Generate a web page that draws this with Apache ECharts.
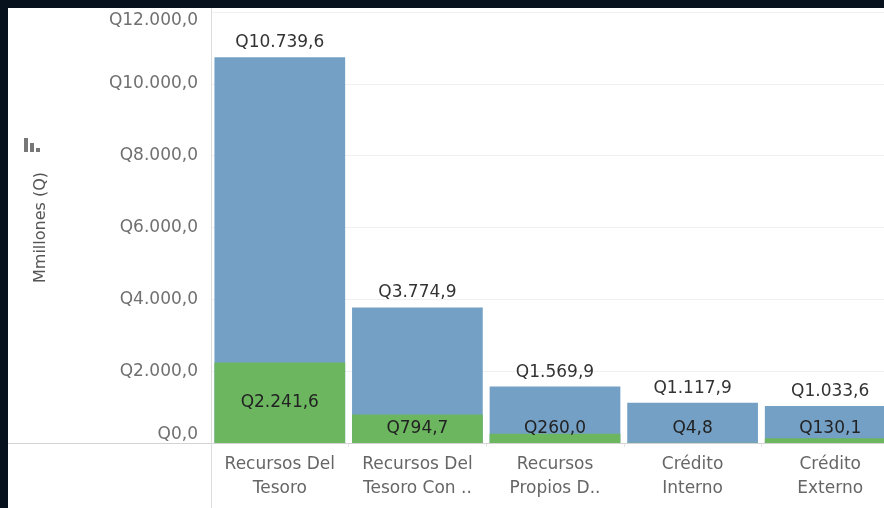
<!DOCTYPE html>
<html>
<head>
<meta charset="utf-8">
<script src="https://cdn.jsdelivr.net/npm/echarts@6/dist/echarts.min.js"></script>
<style>
  html, body { margin: 0; padding: 0; background: #06111d; width: 884px; height: 508px; overflow: hidden; }
  #chart { position: absolute; left: 8px; top: 8px; width: 876px; height: 500px; background: #fff; }
</style>
</head>
<body>
<div id="chart"></div>
<script>
// fuentes de financiamiento (millones de Q)
var categorias = ['Recursos Del\nTesoro', 'Recursos Del\nTesoro Con ..', 'Recursos\nPropios D..', 'Crédito\nInterno', 'Crédito\nExterno'];
var totales = [10739.6, 3774.9, 1569.9, 1117.9, 1033.6];
var ejecutados = [2241.6, 794.7, 260.0, 4.8, 130.1];
var yTicks = [0, 2000, 4000, 6000, 8000, 10000, 12000];

var fuente = '"DejaVu Sans", Verdana, sans-serif';

function fmtQ(v) {
    var partes = Number(v).toFixed(1).split('.');
    var entero = partes[0].replace(/\B(?=(\d{3})+(?!\d))/g, '.');
    return 'Q' + entero + ',' + partes[1];
}

var chart = echarts.init(document.getElementById('chart'));

var verdeData = ejecutados.map(function (v) {
    return {
        value: v,
        label: v < 1000 ? { position: 'insideBottom', distance: 6 } : { position: 'inside' }
    };
});

chart.setOption({
    animation: false,
    grid: { left: 203, top: 4, width: 688, bottom: 65, outerBoundsMode: 'none', containLabel: false },
    xAxis: {
        type: 'category',
        data: categorias,
        axisLine: { show: false },
        axisTick: { show: true, length: 4, lineStyle: { color: '#e6e6e6' } },
        axisLabel: {
            color: '#666',
            fontFamily: fuente,
            fontSize: 17,
            lineHeight: 24,
            margin: 10,
            interval: 0
        }
    },
    yAxis: {
        type: 'value',
        min: yTicks[0],
        max: yTicks[yTicks.length - 1],
        interval: 2000,
        name: 'Mmillones (Q)',
        nameLocation: 'middle',
        nameGap: 162,
        nameTextStyle: { color: '#555', fontFamily: fuente, fontSize: 16 },
        axisLine: { show: false },
        axisTick: { show: false },
        splitLine: { lineStyle: { color: '#f0f0f0' } },
        axisLabel: {
            color: '#707070',
            fontFamily: fuente,
            fontSize: 17,
            margin: 13,
            verticalAlignMinLabel: 'bottom',
            verticalAlignMaxLabel: 'top',
            formatter: fmtQ
        }
    },
    series: [
        {
            name: 'Total',
            type: 'bar',
            data: totales,
            barCategoryGap: '5%',
            itemStyle: { color: '#74a0c6' },
            label: {
                show: true,
                position: 'top',
                distance: 6,
                color: '#333',
                fontFamily: fuente,
                fontSize: 17,
                formatter: function (p) { return fmtQ(p.value); }
            }
        },
        {
            name: 'Ejecutado',
            type: 'bar',
            data: verdeData,
            barGap: '-100%',
            barCategoryGap: '5%',
            itemStyle: { color: '#6cb660' },
            label: {
                show: true,
                color: '#222',
                fontFamily: fuente,
                fontSize: 17,
                formatter: function (p) { return fmtQ(p.value); }
            }
        }
    ]
});

// linea de cero y eje vertical a todo el panel (estilo tableau)
var y0 = chart.convertToPixel({ yAxisIndex: 0 }, 0);
chart.setOption({
    graphic: [
        { type: 'line', silent: true, z: 10, shape: { x1: 0, y1: y0 + 0.5, x2: 876, y2: y0 + 0.5 }, style: { stroke: '#d4d4d4', lineWidth: 1 } },
        { type: 'line', silent: true, z: 10, shape: { x1: 203.5, y1: 0, x2: 203.5, y2: 500 }, style: { stroke: '#dcdcdc', lineWidth: 1 } },
        { type: 'rect', silent: true, shape: { x: 16, y: 130, width: 4, height: 14 }, style: { fill: '#777' } },
        { type: 'rect', silent: true, shape: { x: 22, y: 135, width: 4, height: 9 }, style: { fill: '#777' } },
        { type: 'rect', silent: true, shape: { x: 28, y: 140, width: 4, height: 4 }, style: { fill: '#777' } }
    ]
});
</script>
</body>
</html>
